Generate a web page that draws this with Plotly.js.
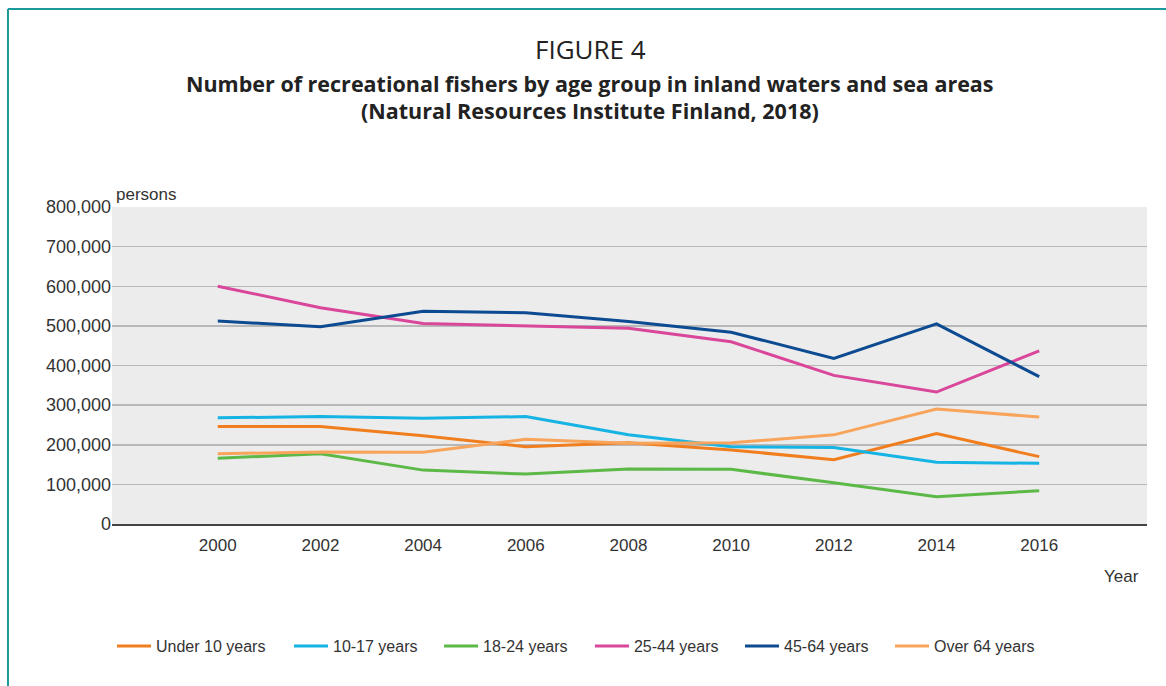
<!DOCTYPE html>
<html>
<head>
<meta charset="utf-8">
<script src="https://cdn.plot.ly/plotly-3.0.1.min.js"></script>
<style>html,body{margin:0;padding:0;background:#fff;}#chart{width:1166px;height:686px;}</style>
</head>
<body>
<div id="chart"></div>
<script>
const years = [2000, 2002, 2004, 2006, 2008, 2010, 2012, 2014, 2016];
const under10 = [246000, 246000, 223000, 195000, 205000, 187000, 162000, 228000, 170000];
const age10_17 = [268000, 271000, 267000, 271000, 225000, 195000, 193000, 156000, 153000];
const age18_24 = [166000, 177000, 136000, 126000, 139000, 138000, 104000, 69000, 84000];
const age25_44 = [600000, 546000, 506000, 500000, 494000, 460000, 375000, 333000, 437000];
const age45_64 = [512000, 498000, 537000, 533000, 511000, 484000, 418000, 505000, 372000];
const over64 = [177000, 182000, 181000, 214000, 204000, 205000, 225000, 290000, 270000];
const seriesNames = ['Under 10 years', '10-17 years', '18-24 years', '25-44 years', '45-64 years', 'Over 64 years'];
const seriesValues = [under10, age10_17, age18_24, age25_44, age45_64, over64];
const colors = ['#f07e1e', '#16b4e4', '#5cb947', '#d9469a', '#0c4a92', '#f8a55b'];
const yTicks = [0, 100000, 200000, 300000, 400000, 500000, 600000, 700000, 800000];
const legendIds = ['legend', 'legend2', 'legend3', 'legend4', 'legend5', 'legend6'];
const legendX = [0, 0.171, 0.316, 0.4618, 0.6068, 0.7517];

const traces = seriesNames.map((n, i) => ({
  type: 'scatter', mode: 'lines', name: n, x: years, y: seriesValues[i],
  line: {color: colors[i], width: 3}, hoverinfo: 'x+y+name', legend: legendIds[i]
}));

const layout = {
  width: 1166, height: 686,
  paper_bgcolor: '#ffffff', plot_bgcolor: '#ececec',
  margin: {l: 112, r: 19, t: 207, b: 162},
  font: {family: 'Liberation Sans, Arial, sans-serif', size: 17, color: '#333333'},
  showlegend: true,
  xaxis: {
    range: [1997.94, 2018.1], tickvals: years, ticktext: years.map(String),
    showgrid: false, zeroline: false, showline: true, linecolor: '#444444', linewidth: 2,
    ticks: 'outside', ticklen: 5, tickcolor: 'rgba(0,0,0,0)', fixedrange: true,
    tickfont: {size: 17, color: '#333333'}
  },
  yaxis: {
    range: [0, 800000], tickvals: yTicks, tickformat: ',', showgrid: true, gridcolor: '#b8b8b8', gridwidth: 1.5,
    zeroline: false, showline: false, ticks: '', ticklen: 0, fixedrange: true,
    tickfont: {size: 18, color: '#333333'}
  },
  shapes: [
    {type: 'line', xref: 'paper', yref: 'paper', x0: -0.1005, x1: 1.03, y0: 1.6246, y1: 1.6246, line: {color: '#1a9a9a', width: 2}},
    {type: 'line', xref: 'paper', yref: 'paper', x0: -0.1005, x1: -0.1005, y0: 1.6246, y1: -0.6, line: {color: '#1a9a9a', width: 2}}
  ],
  annotations: [
    {text: 'FIGURE 4', xref: 'paper', yref: 'paper', x: 0.462, y: 1.498, xanchor: 'center', yanchor: 'middle', showarrow: false,
     font: {family: 'Open Sans, sans-serif', size: 26, color: '#222222'}},
    {text: '<b>Number of recreational fishers by age group in inland waters and sea areas</b>', xref: 'paper', yref: 'paper', x: 0.462, y: 1.391, xanchor: 'center', yanchor: 'middle', showarrow: false,
     font: {family: 'Open Sans, sans-serif', size: 21.5, color: '#222222'}},
    {text: '<b>(Natural Resources Institute Finland, 2018)</b>', xref: 'paper', yref: 'paper', x: 0.462, y: 1.303, xanchor: 'center', yanchor: 'middle', showarrow: false,
     font: {family: 'Open Sans, sans-serif', size: 21.5, color: '#222222'}},
    {text: 'persons', xref: 'paper', yref: 'paper', x: 0.002, y: 1.038, xanchor: 'left', yanchor: 'middle', showarrow: false,
     font: {size: 17, color: '#333333'}},
    {text: 'Year', xref: 'paper', yref: 'paper', x: 0.994, y: -0.167, xanchor: 'right', yanchor: 'middle', showarrow: false,
     font: {size: 17, color: '#333333'}}
  ]
};
legendIds.forEach((id, i) => {
  layout[id] = {orientation: 'h', x: legendX[i], xanchor: 'left', y: -0.385, yanchor: 'middle', itemwidth: 34,
                font: {size: 16, color: '#333333'}, bgcolor: 'rgba(0,0,0,0)'};
});

Plotly.newPlot('chart', traces, layout, {displayModeBar: false, staticPlot: true});
</script>
</body>
</html>
